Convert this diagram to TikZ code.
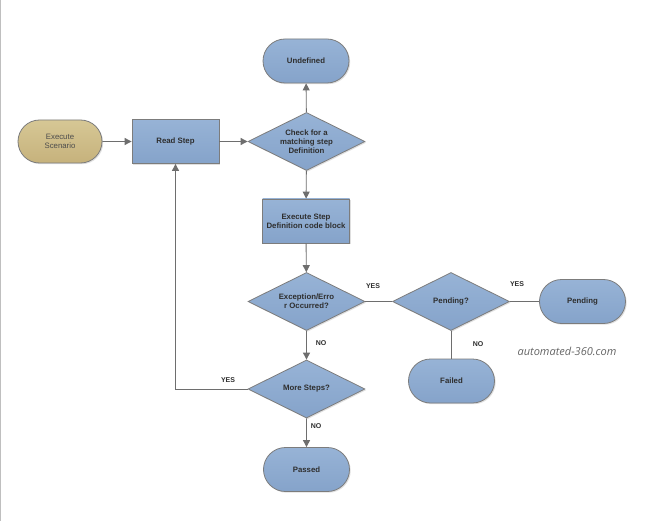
\documentclass[tikz,border=0pt]{standalone}
\usepackage{fontspec}
\setmainfont{Liberation Sans}
\newfontfamily\wmfont{Open Sans}
\usetikzlibrary{shapes.geometric,shapes.misc,arrows.meta,shadows}
\definecolor{bluetop}{HTML}{97B3D6}
\definecolor{bluebot}{HTML}{85A3CA}
\definecolor{sandtop}{HTML}{D6C795}
\definecolor{sandbot}{HTML}{C6B27C}
\definecolor{edgegray}{HTML}{7C7C7C}
\definecolor{linegray}{HTML}{6E6E6E}
\definecolor{txt}{HTML}{2E2E2E}
\tikzset{
  base/.style={draw=edgegray, line width=0.8pt, text=txt, align=center,
    font=\fontsize{7.8}{9.2}\selectfont\bfseries,
    drop shadow={opacity=0.25, shadow xshift=1.2pt, shadow yshift=-1.2pt}},
  bluefill/.style={top color=bluetop, bottom color=bluebot},
  procbox/.style={base, bluefill, rectangle, minimum width=87pt, minimum height=44pt, inner sep=1pt},
  termbox/.style={base, bluefill, rounded rectangle, minimum width=88pt, minimum height=44pt, inner sep=1pt},
  startbox/.style={base, top color=sandtop, bottom color=sandbot, rounded rectangle,
    minimum width=86pt, minimum height=43pt, inner sep=1pt,
    font=\fontsize{7.8}{9.2}\selectfont, text=black!70},
  decbox/.style={base, bluefill, diamond, aspect=2, minimum width=117pt, minimum height=58pt, inner sep=0pt},
  conn/.style={draw=linegray, line width=0.9pt},
  arr/.style={conn, -{Triangle[length=7pt,width=7pt]}},
  lbl/.style={font=\fontsize{7}{8}\selectfont\bfseries, text=txt, inner sep=0pt}
}
\begin{document}
\begin{tikzpicture}[x=1pt,y=-1pt]
\useasboundingbox (0,0) rectangle (652,521);
\fill[white] (0,0) rectangle (652,521);
\draw[black!25, line width=1pt] (0.5,0) -- (0.5,521);

\node[startbox] (scen) at (60,141.5) {Execute\\Scenario};
\node[procbox] (read) at (175.5,141.5) {Read Step};
\node[decbox] (check) at (306.5,141.5) {Check for a\\matching step\\Definition};
\node[termbox] (undef) at (306,61) {Undefined};
\node[procbox] (exec) at (306,221) {Execute Step\\Definition code block};
\node[decbox] (exc) at (306.5,301.5) {Exception/Erro\\r Occurred?};
\node[decbox] (pend) at (451,301.5) {Pending?};
\node[termbox] (pendt) at (582.5,301.5) {Pending};
\node[termbox] (fail) at (451.5,381) {Failed};
\node[decbox] (more) at (306.5,389) {More Steps?};
\node[termbox] (pass) at (306.5,469.5) {Passed};

\draw[arr] (scen) -- (read);
\draw[arr] (read) -- (check);
\draw[arr] (check) -- (undef);
\draw[arr] (check) -- (exec);
\draw[arr] (exec) -- (exc);
\draw[conn] (exc) -- (pend);
\draw[conn] (pend) -- (pendt);
\draw[conn] (pend.south) -- (pend.south |- fail.north);
\draw[arr] (exc) -- (more);
\draw[arr] (more) -- (pass);
\draw[arr] (more.west) -| (read.south);

\node[lbl] at (373,286) {YES};
\node[lbl] at (517,284) {YES};
\node[lbl] at (321,343) {NO};
\node[lbl] at (478,344) {NO};
\node[lbl] at (228,380) {YES};
\node[lbl] at (316,426) {NO};
\node[font=\wmfont\itshape\fontsize{11}{13}\selectfont, text=black!60, inner sep=0pt] (wm) at (567,351) {automated-360.com};
\end{tikzpicture}
\end{document}
